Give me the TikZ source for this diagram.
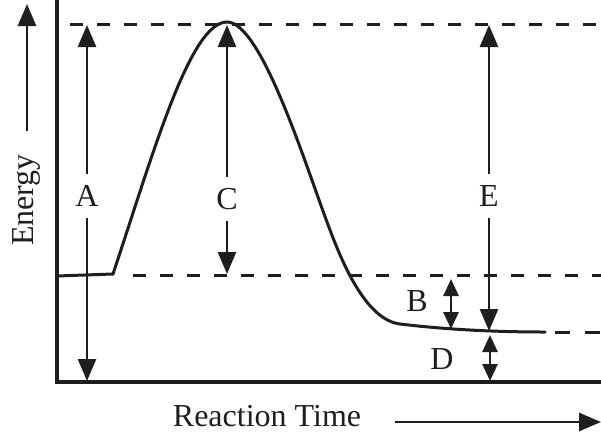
\documentclass[tikz,border=0pt]{standalone}
\usepackage{fontspec}
\setmainfont{Liberation Serif}
\usetikzlibrary{arrows.meta}
\definecolor{ink}{RGB}{30,30,30}
\begin{document}
\begin{tikzpicture}[x=1pt,y=-1pt,
  axisline/.style={draw=ink,line width=3.4pt},
  curveline/.style={draw=ink,line width=3pt,line cap=round},
  dashline/.style={draw=ink,line width=3pt,dash pattern=on 13pt off 14pt},
  arr/.style={draw=ink,line width=2.7pt,-{Triangle[length=22pt,width=18pt]}},
  darr/.style={draw=ink,line width=2.7pt,{Triangle[length=17pt,width=15pt]}-{Triangle[length=17pt,width=15pt]}},
  lbl/.style={text=ink,font=\fontsize{32}{32}\selectfont,inner sep=0pt,minimum height=43pt},
  txt/.style={text=ink,font=\fontsize{32}{32}\selectfont,inner sep=0pt}
]
\useasboundingbox (0,0) rectangle (601,434);
% axes
\coordinate (O) at (57,382);
\coordinate (Ytop) at (57,0);
\coordinate (Xend) at (601,382);
\draw[axisline,line join=miter] (Ytop) -- (O) -- (Xend);
% dashed levels
\coordinate (T1) at (70,24);   \coordinate (T2) at (601,24);
\coordinate (M1) at (133,275); \coordinate (M2) at (601,275);
\coordinate (L1) at (555,332); \coordinate (L2) at (601,332);
\draw[dashline] (T1) -- (T2);
\draw[dashline] (M1) -- (M2);
\draw[dashline,dash pattern=on 15pt off 15pt] (L1) -- (L2);
% energy curve
\coordinate (S) at (57,276);
\draw[curveline] (S) -- (113,274)
  .. controls (153,154) and (190,22) .. (227,22)
  .. controls (262,22) and (307,170) .. (330,230)
  .. controls (345,270) and (368,320) .. (400,324)
  .. controls (450,330) and (500,332) .. (545,332);
% A
\coordinate (Atop) at (87,25); \coordinate (Abot) at (87,381);
\node[lbl] (A) at (87,196) {A};
\draw[arr] (A) -- (Atop);
\draw[arr] (A) -- (Abot);
% C
\coordinate (Ctop) at (227,25); \coordinate (Cbot) at (227,274);
\node[lbl] (C) at (227,199) {C};
\draw[arr] (C) -- (Ctop);
\draw[arr] (C) -- (Cbot);
% E
\coordinate (Etop) at (489,25); \coordinate (Ebot) at (489,331);
\node[lbl] (E) at (489,196) {E};
\draw[arr] (E) -- (Etop);
\draw[arr] (E) -- (Ebot);
% B
\coordinate (Btop) at (451,279); \coordinate (Bbot) at (451,329);
\draw[darr] (Btop) -- (Bbot);
\node[txt] (B) at (417,301) {B};
% D
\coordinate (Dtop) at (490,335); \coordinate (Dbot) at (490,381);
\draw[darr] (Dtop) -- (Dbot);
\node[txt] (D) at (442,359) {D};
% Energy label
\node[txt,rotate=90] (En) at (26,200) {Energy};
\coordinate (EnTip) at (27,4);
\coordinate (EnTail) at (27,131);
\draw[arr] (EnTail) -- (EnTip);
% Reaction Time
\node[txt] (RT) at (267,416) {Reaction Time};
\coordinate (RTtail) at (395,422); \coordinate (RTtip) at (601,422);
\draw[arr] (RTtail) -- (RTtip);
\end{tikzpicture}
\end{document}
